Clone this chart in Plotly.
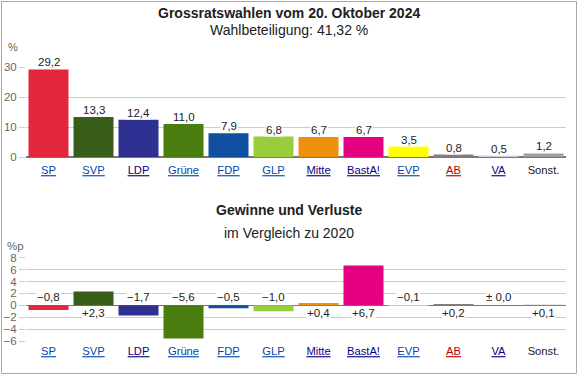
import plotly.graph_objects as go

parties = ["SP", "SVP", "LDP", "Grüne", "FDP", "GLP", "Mitte", "BastA!", "EVP", "AB", "VA", "Sonst."]
share_2024 = [29.2, 13.3, 12.4, 11.0, 7.9, 6.8, 6.7, 6.7, 3.5, 0.8, 0.5, 1.2]
change_vs_2020 = [-0.8, 2.3, -1.7, -5.6, -0.5, -1.0, 0.4, 6.7, -0.1, 0.2, 0.0, 0.1]
share_ticks = [0, 10, 20, 30]
change_ticks = [-6, -4, -2, 0, 2, 4, 6, 8]

bar_colors = ["#E3263B", "#385E1A", "#2E3192", "#4A7D10", "#1150A0", "#9ACD3C",
              "#EE900C", "#E4007E", "#FFFF00", "#7F7F7F", "#CFD0DE", "#A0A0A0"]
label_colors = ["#0645AD", "#0645AD", "#0B0080", "#0645AD", "#0645AD", "#0645AD",
                "#0B0080", "#0B0080", "#0645AD", "#BA0000", "#0B0080", "#202122"]

W, H = 578, 376
FONT = "Liberation Sans, Arial, sans-serif"


def fmt(v):
    return f"{v:.1f}".replace(".", ",")


def fmt_change(v):
    if v > 0:
        return "+" + fmt(v)
    if v < 0:
        return "\u2212" + fmt(-v)
    return "\u00b1 " + fmt(v)


def py(p):
    return 1 - p / H


ticktext = [f'<span style="color:{c}"><u>{p}</u></span>' if p != "Sonst." else
            f'<span style="color:{c}">{p}</span>' for p, c in zip(parties, label_colors)]

fig = go.Figure()
fig.add_trace(go.Bar(x=parties, y=share_2024, marker=dict(color=bar_colors, line=dict(width=0)),
                     xaxis="x", yaxis="y", hoverinfo="skip"))
fig.add_trace(go.Bar(x=parties, y=change_vs_2020, marker=dict(color=bar_colors, line=dict(width=0)),
                     xaxis="x2", yaxis="y2", hoverinfo="skip"))

ann = []
for p, v in zip(parties, share_2024):
    ann.append(dict(x=p, y=v, xref="x", yref="y", text=fmt(v), showarrow=False,
                    xanchor="center", yanchor="bottom", yshift=0, bgcolor="white", borderpad=0,
                    font=dict(size=11.5, color="#222", family=FONT)))
for p, v in zip(parties, change_vs_2020):
    ann.append(dict(x=p, y=0, xref="x2", yref="y2", text=fmt_change(v), showarrow=False,
                    xanchor="center", yanchor="bottom" if v <= 0 else "top",
                    yshift=1 if v <= 0 else -1, bgcolor="white", borderpad=0,
                    font=dict(size=11.5, color="#222", family=FONT)))

title_style = dict(xref="paper", yref="paper", showarrow=False, xanchor="center", yanchor="middle")
ann += [
    dict(x=0.5, y=py(13), text="<b>Grossratswahlen vom 20. Oktober 2024</b>",
         font=dict(size=14, color="#202122", family=FONT), **title_style),
    dict(x=0.5, y=py(29.5), text="Wahlbeteiligung: 41,32 %",
         font=dict(size=14, color="#202122", family=FONT), **title_style),
    dict(x=0.5, y=py(210), text="<b>Gewinne und Verluste</b>",
         font=dict(size=14, color="#202122", family=FONT), **title_style),
    dict(x=0.5, y=py(233), text="im Vergleich zu 2020",
         font=dict(size=14, color="#202122", family=FONT), **title_style),
    dict(x=13 / W, y=py(47), text="%",
         font=dict(size=11, color="#666", family=FONT), **title_style),
    dict(x=15 / W, y=py(246), text="%p",
         font=dict(size=11.5, color="#666", family=FONT), **title_style),
]

xdom = [26 / W, 566 / W]
common_x = dict(domain=xdom, type="category", categoryorder="array", categoryarray=parties,
                tickmode="array", tickvals=parties, ticktext=ticktext, showgrid=False,
                ticks="", tickfont=dict(size=11.2, family=FONT), fixedrange=True,
                range=[-0.5, len(parties) - 0.5], automargin=False)
common_y = dict(showgrid=True, gridcolor="#CCCCCC", gridwidth=1, zeroline=True,
                zerolinecolor="#777777", zerolinewidth=1.5, ticks="outside", ticklen=6,
                tickcolor="#CCCCCC", showline=False, fixedrange=True, automargin=False,
                tickfont=dict(size=11.5, color="#666", family=FONT))

fig.update_layout(
    width=W, height=H, margin=dict(l=0, r=0, t=0, b=0, pad=0, autoexpand=False),
    paper_bgcolor="white", plot_bgcolor="white", showlegend=False,
    bargap=0.111, font=dict(family=FONT),
    xaxis=dict(**common_x, anchor="y", ticklabelstandoff=5),
    xaxis2=dict(**common_x, anchor="y2", ticklabelstandoff=2),
    yaxis=dict(**common_y, domain=[py(157), py(67)], range=[0, 30], tickvals=share_ticks,
               anchor="x"),
    yaxis2=dict(**common_y, domain=[py(341), py(257.7)], range=[-6, 8], tickvals=change_ticks,
                ticktext=[("\u2212" + str(-t)) if t < 0 else str(t) for t in change_ticks],
                anchor="x2"),
    annotations=ann,
    shapes=[dict(type="rect", xref="paper", yref="paper", x0=1.5 / W, x1=576.5 / W,
                 y0=py(373.5), y1=py(1.5), line=dict(color="#A2A9B1", width=1))],
)

fig.write_html("out.html", config={"displayModeBar": False, "staticPlot": True},
               post_script="document.body.style.margin='0';")
